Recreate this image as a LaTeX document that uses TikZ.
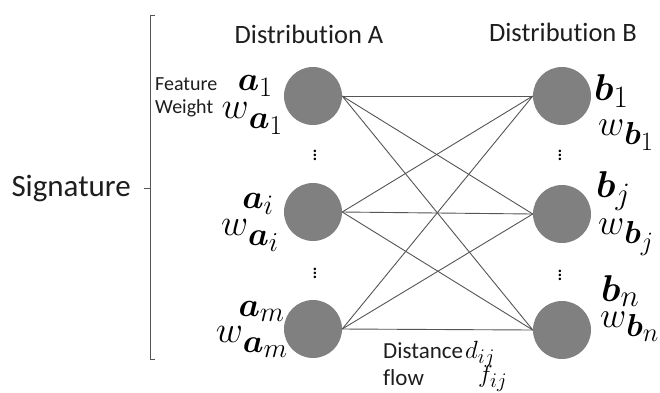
\documentclass[tikz,border=0pt]{standalone}
\usepackage{amsmath}
\usepackage{bm}
\usepackage{fontspec}
\setmainfont{Carlito}[Ligatures=NoCommon]
\definecolor{circfill}{RGB}{128,128,128}
\definecolor{linecol}{RGB}{85,85,85}
\definecolor{txtcol}{RGB}{30,30,30}
\newcommand{\amath}[1]{\scalebox{1.36}{$#1$}}
\newcommand{\awmath}[1]{\scalebox{1.5}{$#1$}}
\newcommand{\bmath}[1]{\scalebox{1.5}{$#1$}}
\newcommand{\wmath}[1]{\scalebox{1.45}{$#1$}}
\newcommand{\wsub}[2]{w\raisebox{-0.27em}{\scalebox{0.88}{$\bm{#1}_{#2}$}}}
\begin{document}
\begin{tikzpicture}[x=1pt,y=-1pt,
  dotnode/.style={circle,fill=circfill,minimum size=58pt,inner sep=0pt},
  link/.style={draw=linecol,line width=0.9pt},
  lbl/.style={inner sep=0pt,text=txtcol},
  mbig/.style={inner sep=0pt,font=\fontsize{24.88}{30}\selectfont},
  mmid/.style={inner sep=0pt,font=\fontsize{24.88}{30}\selectfont},
  vd/.style={inner sep=0pt,font=\fontsize{20.74}{24}\selectfont},
  brace/.style={draw=linecol,line width=1pt}]
\useasboundingbox[fill=white] (0,0) rectangle (660,392);

% circles
\node[dotnode] (a1) at (313,96) {};
\node[dotnode] (ai) at (313,212) {};
\node[dotnode] (am) at (313,329) {};
\node[dotnode] (b1) at (562,96) {};
\node[dotnode] (bj) at (562,214) {};
\node[dotnode] (bn) at (562,330) {};

% connectors
\foreach \s in {a1,ai,am}{
  \foreach \t in {b1,bj,bn}{
    \draw[link] (\s.east) -- (\t.west);
  }
}

% headings
\node[lbl,anchor=base,font=\fontsize{26.5}{30}\selectfont] (hA) at (309,43) {Distribution A};
\node[lbl,anchor=base,font=\fontsize{26.5}{30}\selectfont] (hB) at (563,41) {Distribution B};

% feature / weight
\node[lbl,anchor=base west,font=\fontsize{20}{22}\selectfont] (feat) at (155,90) {Feature};
\node[lbl,anchor=base west,font=\fontsize{20}{22}\selectfont] (wgt) at (155,113) {Weight};

% A labels
\node[mbig,anchor=base east] (la1) at (273,90) {\amath{\bm{a}_1}};
\node[mbig,anchor=base east] (lwa1) at (283,118) {\awmath{\wsub{a}{1}}};
\node[mbig,anchor=base east] (lai) at (274,208) {\amath{\bm{a}_i}};
\node[mbig,anchor=base east] (lwai) at (279,235) {\awmath{\wsub{a}{i}}};
\node[mbig,anchor=base east] (lam) at (285,316) {\amath{\bm{a}_m}};
\node[mbig,anchor=base east] (lwam) at (288,342) {\awmath{\wsub{a}{m}}};

% B labels
\node[mbig,anchor=base west] (lb1) at (594,100) {\bmath{\bm{b}_1}};
\node[mbig,anchor=base west] (lwb1) at (598,135) {\wmath{\wsub{b}{1}}};
\node[mbig,anchor=base west] (lbj) at (596,197) {\bmath{\bm{b}_j}};
\node[mbig,anchor=base west] (lwbj) at (598,234) {\wmath{\wsub{b}{j}}};
\node[mbig,anchor=base west] (lbn) at (601,301) {\bmath{\bm{b}_n}};
\node[mbig,anchor=base west] (lwbn) at (600,327) {\wmath{\wsub{b}{n}}};

% vertical dots
\node[vd] (va1) at (315,152) {$\vdots$};
\node[vd] (va2) at (315,270) {$\vdots$};
\node[vd] (vb1) at (560,152) {$\vdots$};
\node[vd] (vb2) at (560,272) {$\vdots$};

% distance / flow
\node[lbl,anchor=base west,font=\fontsize{23}{26}\selectfont] (dist) at (383,358) {Distance};
\node[lbl,anchor=base west,font=\fontsize{23}{26}\selectfont] (flow) at (383,385) {flow};
\node[mmid,anchor=base west] (dij) at (465,358) {$d_{ij}$};
\node[mmid,anchor=base west] (fij) at (478,382) {$f_{ij}$};

% bracket and signature
\coordinate (bt) at (150,15);
\coordinate (bb) at (150,359);
\coordinate (bm) at (150,188);
\coordinate (btt) at (155,15);
\coordinate (bbt) at (155,359);
\coordinate (bmt) at (144,188);
\draw[brace] (btt) -- (bt) -- (bb) -- (bbt);
\draw[brace] (bm) -- (bmt);
\node[lbl,anchor=base east,font=\fontsize{31}{36}\selectfont] (sig) at (131,196) {Signature};
\end{tikzpicture}
\end{document}
